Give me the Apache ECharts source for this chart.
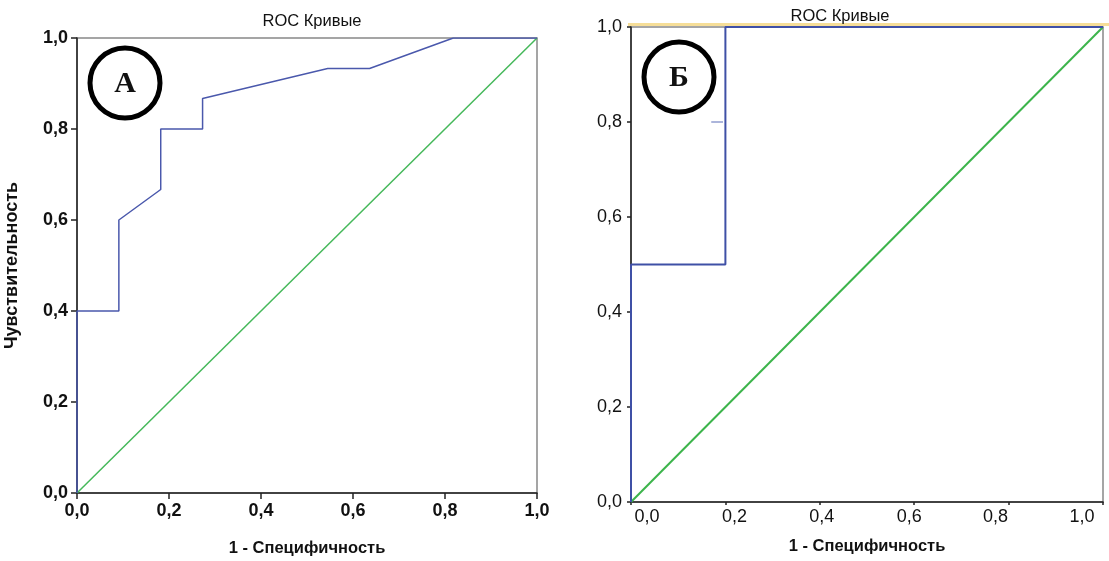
<!DOCTYPE html>
<html><head><meta charset="utf-8">
<script src="https://cdn.jsdelivr.net/npm/echarts@6/dist/echarts.min.js"></script>
<style>html,body{margin:0;padding:0;background:#fff}#c{width:1109px;height:561px}</style>
</head><body><div id="c"></div>
<script>
// Data
const titleText = 'ROC Кривые';
const xName = '1 - Специфичность';
const yName = 'Чувствительность';
const tickValues = [0, 0.2, 0.4, 0.6, 0.8, 1.0];
// Panel A ROC curve (1-specificity, sensitivity)
const rocA_x = [0, 0, 0.091, 0.091, 0.182, 0.182, 0.273, 0.273, 0.545, 0.636, 0.818, 1.0];
const rocA_y = [0, 0.4, 0.4, 0.6, 0.667, 0.8, 0.8, 0.867, 0.933, 0.933, 1.0, 1.0];
// Panel B ROC curve
const rocB_x = [0, 0, 0.2, 0.2, 1.0];
const rocB_y = [0, 0.5, 0.5, 1.0, 1.0];
const rocB_mark_x = [0.17, 0.195];
const rocB_mark_y = [0.8, 0.8];
// Reference diagonal
const diag_x = [0, 1];
const diag_y = [0, 1];
const panelLabels = ['А', 'Б'];

// Style: horizontal shift (px) of panel B x tick labels, as in the original picture
const labelShiftB = [16, 9, 2, -5, -13, -21];

const zip = (xs, ys) => xs.map((x, i) => [x, ys[i]]);
const fmt = v => v.toFixed(1).replace('.', ',');
const font = 'Liberation Sans, Arial, sans-serif';

const richB = {};
labelShiftB.forEach((s, i) => {
  richB['s' + i] = {fontFamily: font, fontSize: 18, color: '#111',
    padding: s >= 0 ? [0, 0, 0, 2 * s] : [0, -2 * s, 0, 0]};
});
const fmtB = v => {
  const i = Math.round(v / 0.2);
  return '{s' + i + '|' + fmt(v) + '}';
};

function xAxisFor(idx, nameGap, labelMargin, tickLen, weight, formatter, rich) {
  return {
    type: 'value', gridIndex: idx, min: 0, max: 1, interval: 0.2,
    name: xName, nameLocation: 'middle', nameGap: nameGap,
    nameTextStyle: {fontFamily: font, fontSize: 16.5, fontWeight: 'bold', color: '#111'},
    axisLine: {show: true, onZero: false, lineStyle: {color: '#222', width: 1.5}},
    axisTick: {show: true, length: tickLen, lineStyle: {color: '#222', width: 1.5}},
    axisLabel: {formatter: formatter, rich: rich, fontFamily: font, fontSize: 18, fontWeight: weight, color: '#111', margin: labelMargin},
    splitLine: {show: false}
  };
}
function yAxisFor(idx, showName, tickLen, weight) {
  return {
    type: 'value', gridIndex: idx, min: 0, max: 1, interval: 0.2,
    name: showName ? yName : '', nameLocation: 'middle', nameGap: 56, nameRotate: 90,
    nameTextStyle: {fontFamily: font, fontSize: 18, fontWeight: 'bold', color: '#111'},
    axisLine: {show: true, onZero: false, lineStyle: {color: '#222', width: 1.5}},
    axisTick: {show: true, length: tickLen, lineStyle: {color: '#222', width: 1.5}},
    axisLabel: {formatter: fmt, fontFamily: font, fontSize: 18, fontWeight: weight, color: '#111', margin: 9},
    splitLine: {show: false}
  };
}

const chart = echarts.init(document.getElementById('c'), null, {renderer: 'canvas'});
chart.setOption({
  animation: false,
  backgroundColor: '#fff',
  title: [
    {text: titleText, left: 307, top: 8, textAlign: 'center',
     textStyle: {fontFamily: font, fontSize: 16.5, fontWeight: 'normal', color: '#111'}},
    {text: titleText, left: 835, top: 3, textAlign: 'center',
     textStyle: {fontFamily: font, fontSize: 16.5, fontWeight: 'normal', color: '#111'}}
  ],
  grid: [
    {left: 77, top: 38, width: 460, height: 455, show: true, borderColor: '#888', borderWidth: 1.5, backgroundColor: 'transparent', outerBoundsMode: 'none', containLabel: false},
    {left: 631, top: 27, width: 472, height: 475, show: true, borderColor: '#888', borderWidth: 1.5, backgroundColor: 'transparent', outerBoundsMode: 'none', containLabel: false}
  ],
  xAxis: [xAxisFor(0, 47, 9, 6, 'bold', fmt, undefined), xAxisFor(1, 36, 6, 3, 'normal', fmtB, richB)],
  yAxis: [yAxisFor(0, true, 6, 'bold'), yAxisFor(1, false, 4, 'normal')],
  series: [
    {type: 'line', xAxisIndex: 0, yAxisIndex: 0, data: zip(diag_x, diag_y), symbol: 'none',
     lineStyle: {color: '#45b85a', width: 1.5}},
    {type: 'line', xAxisIndex: 0, yAxisIndex: 0, data: zip(rocA_x, rocA_y), symbol: 'none',
     lineStyle: {color: '#4a58ac', width: 1.5}},
    {type: 'line', xAxisIndex: 1, yAxisIndex: 1, data: zip(diag_x, diag_y), symbol: 'none',
     lineStyle: {color: '#3cb44b', width: 2}},
    {type: 'line', xAxisIndex: 1, yAxisIndex: 1, data: zip(rocB_x, rocB_y), symbol: 'none',
     lineStyle: {color: '#3f50a6', width: 2}},
    {type: 'line', xAxisIndex: 1, yAxisIndex: 1, data: zip(rocB_mark_x, rocB_mark_y), symbol: 'none',
     lineStyle: {color: '#5a6cb8', width: 1.2}}
  ],
  graphic: [
    {type: 'rect', shape: {x: 628, y: 23, width: 481, height: 3}, style: {fill: '#f6de98'}, z: 1},
    {type: 'circle', shape: {cx: 125, cy: 83, r: 35}, style: {fill: '#fff', stroke: '#000', lineWidth: 5}, z: 10},
    {type: 'text', x: 125, y: 84, style: {text: panelLabels[0], fontFamily: 'Liberation Serif, Times New Roman, serif', fontSize: 30, fontWeight: 'bold', fill: '#111', align: 'center', verticalAlign: 'middle'}, z: 11},
    {type: 'circle', shape: {cx: 679, cy: 77, r: 35}, style: {fill: '#fff', stroke: '#000', lineWidth: 5}, z: 10},
    {type: 'text', x: 679, y: 78, style: {text: panelLabels[1], fontFamily: 'Liberation Serif, Times New Roman, serif', fontSize: 30, fontWeight: 'bold', fill: '#111', align: 'center', verticalAlign: 'middle'}, z: 11}
  ]
});
</script></body></html>
